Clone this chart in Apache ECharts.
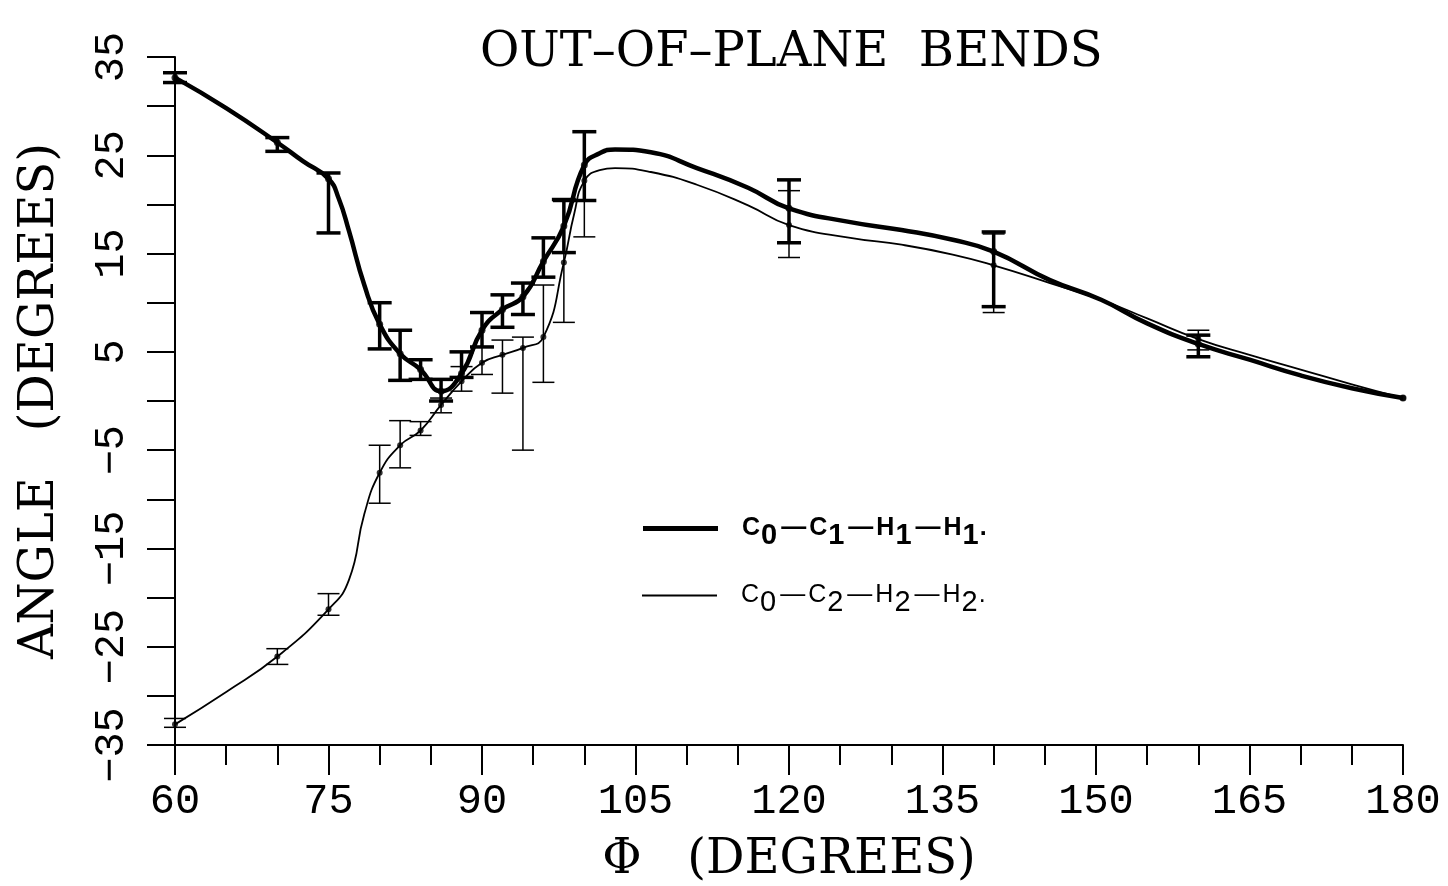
<!DOCTYPE html>
<html>
<head>
<meta charset="utf-8">
<script src="https://cdn.jsdelivr.net/npm/echarts@6/dist/echarts.min.js"></script>
<style>
  html, body { margin: 0; padding: 0; background: #fff; }
  #chart { width: 1448px; height: 886px; }
</style>
</head>
<body>
<div id="chart"></div>
<script>
// Torsion angle PHI (degrees) at which the bends were sampled
const phiSampled = [60, 70, 75, 80, 82, 84, 86, 88, 90, 92, 94, 96, 98, 100, 120, 140, 160, 180];

// C0-C1-H1-H1 bend: mean and error-bar limits
const bend1     = [32.9, 26.3, 22.6, 7.8, 4.8, 3.2, 1.0, 2.8, 7.2, 9.3, 10.6, 14.2, 17.8, 24.0, 19.6, 15.2, 5.8, 0.3];
const bend1Low  = [32.4, 25.4, 17.1, 5.3, 2.1, 2.2, 0.0, 2.4, 5.5, 7.5, 8.8, 12.6, 15.1, 20.4, 16.1, 9.6, 4.5, null];
const bend1High = [33.4, 26.8, 23.2, 10.0, 7.2, 4.2, 2.2, 5.0, 9.0, 10.8, 12.0, 16.6, 20.5, 27.4, 22.5, 17.2, 6.7, null];

// C0-C2-H2-H2 bend: mean and error-bar limits
const bend2     = [-32.9, -26.0, -21.2, -7.3, -4.5, -3.0, -0.4, 2.0, 3.9, 4.7, 5.4, 6.5, 14.1, 22.4, 17.9, 13.8, 6.3, 0.3];
const bend2Low  = [-33.2, -26.8, -21.8, -10.4, -6.8, -3.5, -1.2, 1.0, 2.7, 0.8, -5.0, 1.9, 8.0, 16.7, 14.6, 9.0, 5.2, null];
const bend2High = [-32.3, -25.2, -19.6, -4.5, -2.0, -2.1, 0.3, 3.5, 5.5, 6.2, 6.5, 11.8, 20.3, 27.4, 21.4, 17.0, 7.2, null];

// Additional points along the fitted curves between the samples
const phiCurve1 = [65, 72.5, 76, 77, 78.5, 101.5, 103, 106.5, 111, 116, 126, 131, 136, 145.5, 150.5, 155, 165, 170, 175];
const curve1    = [29.8, 24.4, 20.6, 17.3, 11.8, 25.2, 25.6, 25.3, 23.7, 21.7, 18.2, 17.4, 16.4, 12.3, 10.3, 7.9, 4.2, 2.6, 1.3];
const phiCurve2 = [65, 77, 78.5, 99, 101.5, 103, 106.5, 111, 116, 126, 131, 136, 145.5, 150.5, 155, 165, 170, 175];
const curve2    = [-29.6, -18.2, -11.5, 19.0, 23.5, 23.7, 23.3, 22.0, 19.9, 16.6, 15.9, 14.9, 12.0, 10.3, 8.4, 4.7, 3.2, 1.7];

const NAME1 = 'C0-C1-H1-H1.';
const NAME2 = 'C0-C2-H2-H2.';

function mergeCurve(xs, ys, xe, ye) {
  const pts = xs.map((x, i) => [x, ys[i]]).concat(xe.map((x, i) => [x, ye[i]]));
  return pts.sort((a, b) => a[0] - b[0]);
}

function errorBars(name, lo, hi, width, capHalf) {
  return {
    name: name,
    type: 'custom',
    silent: true,
    z: 3,
    data: phiSampled.map((p, i) => [p, lo[i], hi[i]]).filter(d => d[1] != null),
    encode: { x: 0, y: [1, 2] },
    renderItem: function (params, api) {
      const top = api.coord([api.value(0), api.value(2)]);
      const bot = api.coord([api.value(0), api.value(1)]);
      const style = { stroke: '#000', lineWidth: width, fill: null };
      return {
        type: 'group',
        children: [
          { type: 'line', shape: { x1: top[0], y1: top[1], x2: bot[0], y2: bot[1] }, style: style },
          { type: 'line', shape: { x1: top[0] - capHalf, y1: top[1], x2: top[0] + capHalf, y2: top[1] }, style: style },
          { type: 'line', shape: { x1: bot[0] - capHalf, y1: bot[1], x2: bot[0] + capHalf, y2: bot[1] }, style: style }
        ]
      };
    }
  };
}

const tickFont = 'Liberation Mono';
const serif = 'DejaVu Serif';

function legendRich(bold, subDrop) {
  const w = bold ? 'bold' : 'normal';
  return {
    f: { fontFamily: 'Liberation Sans', fontWeight: w, fontSize: 25, lineHeight: 44, padding: [0, 0, 0, 19], color: '#000' },
    c: { fontFamily: 'Liberation Sans', fontWeight: w, fontSize: 25, lineHeight: 44, color: '#000' },
    d: { fontFamily: 'Liberation Sans', fontWeight: w, fontSize: 25, lineHeight: 44, padding: [0, 3, 0, 3], color: '#000' },
    s: { fontFamily: 'Liberation Sans', fontWeight: w, fontSize: 29, lineHeight: 44 - 2 * subDrop, verticalAlign: 'bottom', padding: [0, 1, 0, 1], color: '#000' }
  };
}

const chart = echarts.init(document.getElementById('chart'), null, { renderer: 'canvas' });

chart.setOption({
  animation: false,
  backgroundColor: '#fff',
  title: {
    text: 'OUT\u2013OF\u2013PLANE  BENDS',
    left: 475,
    top: 25,
    textStyle: { fontFamily: serif, fontWeight: 'normal', fontSize: 48, color: '#000' }
  },
  grid: { left: 175, right: 45, top: 57, bottom: 141, containLabel: false, outerBoundsMode: 'none' },
  legend: [
    {
      data: [NAME1],
      left: 643, top: 516, padding: 0,
      icon: 'rect', itemWidth: 75, itemHeight: 5,
      selectedMode: false,
      formatter: () => '{f|C}{s|0}{d|\u2014}{c|C}{s|1}{d|\u2014}{c|H}{s|1}{d|\u2014}{c|H}{s|1}{c|.}',
      textStyle: { rich: legendRich(true, 7) }
    },
    {
      data: [NAME2],
      left: 642, top: 583, padding: 0,
      icon: 'rect', itemWidth: 75, itemHeight: 2,
      selectedMode: false,
      formatter: () => '{f|C}{s|0}{d|\u2014}{c|C}{s|2}{d|\u2014}{c|H}{s|2}{d|\u2014}{c|H}{s|2}{c|.}',
      textStyle: { rich: legendRich(false, 5) }
    }
  ],
  xAxis: {
    type: 'value',
    min: 60, max: 180, interval: 15,
    name: '\u03A6   (DEGREES)',
    nameLocation: 'middle',
    nameGap: 92,
    nameTextStyle: { fontFamily: serif, fontSize: 48, color: '#000' },
    axisLine: { show: true, onZero: false, lineStyle: { color: '#000', width: 2 } },
    axisTick: { show: true, length: 30, lineStyle: { color: '#000', width: 2 } },
    minorTick: { show: true, splitNumber: 3, length: 20, lineStyle: { color: '#000', width: 2 } },
    splitLine: { show: false },
    minorSplitLine: { show: false },
    axisLabel: { margin: 36, fontFamily: tickFont, fontSize: 42, color: '#000' }
  },
  yAxis: {
    type: 'value',
    min: -35, max: 35, interval: 5,
    name: 'ANGLE   (DEGREES)',
    nameLocation: 'middle',
    nameGap: 110,
    nameTextStyle: { fontFamily: serif, fontSize: 48, color: '#000' },
    axisLine: { show: true, onZero: false, lineStyle: { color: '#000', width: 2 } },
    axisTick: { show: true, length: 28, lineStyle: { color: '#000', width: 2 } },
    splitLine: { show: false },
    axisLabel: {
      rotate: 90, margin: 42, interval: 0,
      fontFamily: tickFont, fontSize: 42, color: '#000',
      formatter: v => ((Math.round(v) + 35) % 10 === 0 ? String(Math.round(v)).replace('-', '\u2212') : '')
    }
  },
  series: [
    {
      name: NAME1, type: 'line', z: 2,
      data: mergeCurve(phiSampled, bend1, phiCurve1, curve1),
      smooth: 0.5, showSymbol: false,
      color: '#000',
      lineStyle: { color: '#000', width: 4.5 }
    },
    {
      name: NAME2, type: 'line', z: 2,
      data: mergeCurve(phiSampled, bend2, phiCurve2, curve2),
      smooth: 0.5, showSymbol: false,
      color: '#000',
      lineStyle: { color: '#000', width: 1.8 }
    },
    errorBars(NAME1, bend1Low, bend1High, 3.5, 12),
    errorBars(NAME2, bend2Low, bend2High, 1.5, 11),
    {
      name: NAME1, type: 'scatter', z: 4, silent: true,
      data: phiSampled.map((p, i) => [p, bend1[i]]),
      symbol: 'circle', symbolSize: 7,
      itemStyle: { color: '#000' }
    },
    {
      name: NAME2, type: 'scatter', z: 4, silent: true,
      data: phiSampled.map((p, i) => [p, bend2[i]]),
      symbol: 'circle', symbolSize: 6,
      itemStyle: { color: '#000' }
    }
  ]
});
</script>
</body>
</html>
